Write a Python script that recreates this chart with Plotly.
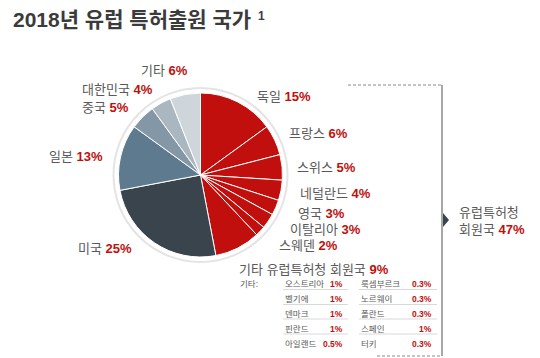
import plotly.graph_objects as go

# ---------------- data ----------------
countries = ["독일", "프랑스", "스위스", "네덜란드", "영국", "이탈리아", "스웨덴",
             "기타 유럽특허청 회원국", "미국", "일본", "중국", "대한민국", "기타"]
shares = [15, 6, 5, 4, 3, 3, 2, 9, 25, 13, 5, 4, 6]
slice_colors = ["#C00F0C"] * 8 + ["#3A444C", "#5E7A8F", "#8497A7", "#AAB7C1", "#CED6DC"]

epo_label = ["유럽특허청", "회원국"]
epo_share = 47

other_label = "기타:"
other_col1 = ["오스트리아", "벨기에", "덴마크", "핀란드", "아일랜드"]
other_col1_vals = ["1%", "1%", "1%", "1%", "0.5%"]
other_col2 = ["룩셈부르크", "노르웨이", "폴란드", "스페인", "터키"]
other_col2_vals = ["0.3%", "0.3%", "0.3%", "1%", "0.3%"]

title = "2018년 유럽 특허출원 국가"
title_note = "1"

# ---------------- layout helpers ----------------
# the page body has an 8px default margin; coordinates below are window pixels
OFF = 8
W, H = 532, 350
def px(x): return (x - OFF) / W
def py(y): return 1 - (y - OFF) / H

RED = "#C00F0C"
GREY = "#595959"
KFONT = "Liberation Sans, Arial, Noto Sans CJK KR"

cx, cy, r = 200.5, 175, 82

fig = go.Figure()
fig.add_trace(go.Pie(
    labels=countries, values=shares, sort=False, direction="clockwise", rotation=0,
    marker=dict(colors=slice_colors, line=dict(color="white", width=1)),
    textinfo="none", hoverinfo="label+percent", showlegend=False,
    domain=dict(x=[px(cx - r), px(cx + r)], y=[py(cy + r), py(cy - r)]),
))

# label positions (pixels): (x, y, anchor)
label_pos = [
    (255, 97, "left"), (287, 133, "left"), (295, 168, "left"), (298, 193, "left"),
    (296, 214, "left"), (288, 230, "left"), (277, 245, "left"), (237, 269, "left"),
    (134, 248, "right"), (105, 156, "right"), (131, 107, "right"), (155, 89, "right"),
    (190, 71, "right"),
]
annotations = []
for name, val, (x, y, anc) in zip(countries, shares, label_pos):
    annotations.append(dict(
        x=px(x), y=py(y), xref="paper", yref="paper", xanchor=anc, yanchor="middle",
        showarrow=False,
        text=f"{name} <b><span style='color:{RED}'>{val}%</span></b>",
        font=dict(family=KFONT, size=13, color=GREY),
    ))

# title
annotations.append(dict(
    x=px(11), y=py(20), xref="paper", yref="paper", xanchor="left", yanchor="middle",
    showarrow=False, text=f"<b>{title}</b>",
    font=dict(family=KFONT, size=21, color="#3B3B3B"),
))
annotations.append(dict(
    x=px(256), y=py(16), xref="paper", yref="paper", xanchor="left", yanchor="middle",
    showarrow=False, text=f"<b>{title_note}</b>",
    font=dict(family=KFONT, size=12, color="#3B3B3B"),
))

# EPO total
annotations.append(dict(
    x=px(457), y=py(221), xref="paper", yref="paper", xanchor="left", yanchor="middle",
    showarrow=False, align="left",
    text=f"{epo_label[0]}<br>{epo_label[1]} <b><span style='color:{RED}'>{epo_share}%</span></b>",
    font=dict(family=KFONT, size=13, color=GREY),
))

# other table
TF = 8.5
annotations.append(dict(
    x=px(238), y=py(284), xref="paper", yref="paper", xanchor="left", yanchor="middle",
    showarrow=False, text=other_label, font=dict(family=KFONT, size=TF, color=GREY),
))
row_y = [284, 299, 313.5, 328.5, 343.5]
shapes = []
for i, yy in enumerate(row_y):
    for names, vals, xl, xr in [(other_col1, other_col1_vals, 283, 345),
                                (other_col2, other_col2_vals, 359, 434)]:
        annotations.append(dict(
            x=px(xl), y=py(yy), xref="paper", yref="paper", xanchor="left", yanchor="middle",
            showarrow=False, text=names[i], font=dict(family=KFONT, size=TF, color=GREY),
        ))
        annotations.append(dict(
            x=px(xr), y=py(yy), xref="paper", yref="paper", xanchor="right", yanchor="middle",
            showarrow=False, text=f"<b>{vals[i]}</b>", font=dict(family=KFONT, size=TF, color=RED),
        ))
    if i < len(row_y) - 1:
        for x0, x1 in [(283, 348), (359, 437)]:
            shapes.append(dict(type="line", xref="paper", yref="paper",
                               x0=px(x0), x1=px(x1), y0=py(yy + 5.5), y1=py(yy + 5.5),
                               line=dict(color="#D9D9D9", width=1)))

# outer ring
rr = 87
shapes.append(dict(type="circle", xref="paper", yref="paper",
                   x0=px(cx - rr), x1=px(cx + rr), y0=py(cy + rr), y1=py(cy - rr),
                   line=dict(color="#E4E4E4", width=2), layer="below"))

# bracket
BR = "#8A8A8A"
shapes.append(dict(type="line", xref="paper", yref="paper", x0=px(348), x1=px(442),
                   y0=py(85), y1=py(85), line=dict(color=BR, width=1, dash="3px,2px")))
shapes.append(dict(type="line", xref="paper", yref="paper", x0=px(377), x1=px(442),
                   y0=py(356), y1=py(356), line=dict(color=BR, width=1, dash="3px,2px")))
shapes.append(dict(type="line", xref="paper", yref="paper", x0=px(442), x1=px(442),
                   y0=py(85), y1=py(356), line=dict(color=BR, width=1.5)))
shapes.append(dict(type="path", xref="paper", yref="paper",
                   path=f"M {px(443)} {py(213)} L {px(449)} {py(220)} L {px(443)} {py(227)} Z",
                   fillcolor="#3A444C", line=dict(width=0)))

fig.update_layout(
    width=W, height=H, margin=dict(l=0, r=0, t=0, b=0),
    paper_bgcolor="white", plot_bgcolor="white",
    annotations=annotations, shapes=shapes,
    xaxis=dict(visible=False, range=[0, 1]), yaxis=dict(visible=False, range=[0, 1]),
)
fig.write_html("out.html")
